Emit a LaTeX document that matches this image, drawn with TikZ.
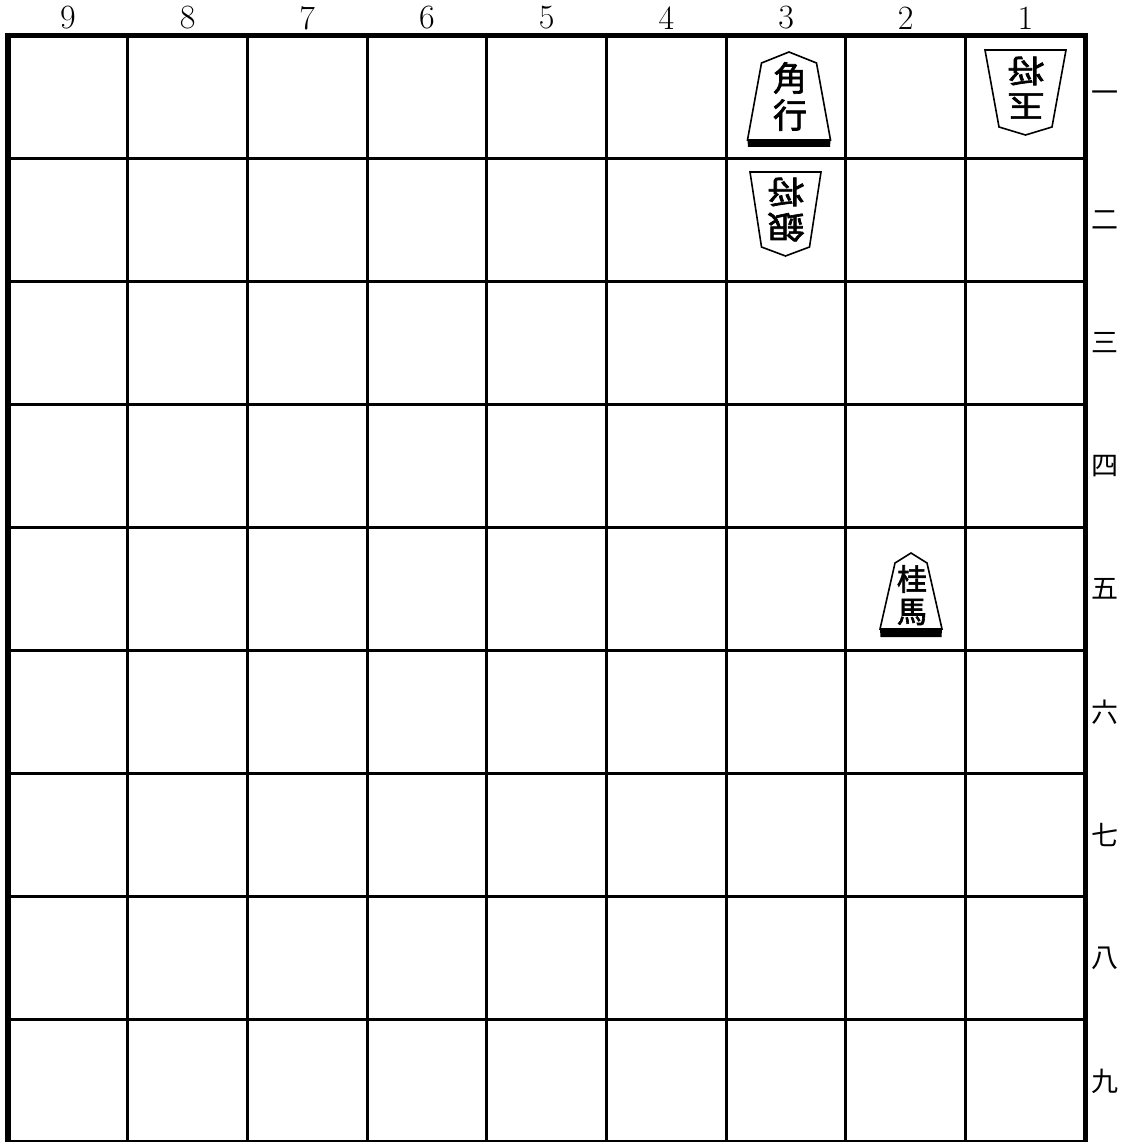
\documentclass[tikz,border=0pt]{standalone}
\usepackage{fontspec}
\newfontfamily\cjk{Noto Sans CJK JP}
\newfontfamily\cjkb[FakeBold=2]{Noto Sans CJK JP}
\newcommand\sentepiece[7]{%
  \draw[pieceline] (#1,#2) -- ({#1+#3},#4) -- ({#1+#5},#6) -- ({#1-#5},#6) -- ({#1-#3},#4) -- cycle;
  \fill ({#1-#5},#6) -- ({#1+#5},#6) -- ({#1+#5-0.5},#7) -- ({#1-#5+0.5},#7) -- cycle;}
\newcommand\gotepiece[6]{%
  \draw[pieceline] ({#1-#3},#2) -- ({#1+#3},#2) -- ({#1+#4},#5) -- (#1,#6) -- ({#1-#4},#5) -- cycle;}
\begin{document}
\begin{tikzpicture}[x=1pt,y=-1pt,
  thinline/.style={line width=3pt},
  frame/.style={line width=5.5pt},
  pieceline/.style={line width=1.6pt, fill=white, line join=miter},
  collabel/.style={font=\fontsize{34}{34}\selectfont, inner sep=0pt},
  rowlabel/.style={font=\cjk\fontsize{27}{27}\selectfont, inner sep=0pt},
  bigchar/.style={font=\cjkb\fontsize{34}{34}\selectfont, inner sep=0pt},
  midchar/.style={font=\cjkb\fontsize{30}{30}\selectfont, inner sep=0pt},
  gotechar/.style={font=\cjkb\fontsize{31}{31}\selectfont, inner sep=0pt, xscale=1.2, rotate=180}]
\useasboundingbox (0,0) rectangle (1122,1142);
\begin{scope}
\clip (0,0) rectangle (1122,1142);
% grid lines
\foreach \k in {1,...,8} {
  \draw[thinline] ({8+\k*119.7},35.5) -- ({8+\k*119.7},1142.5);
  \draw[thinline] (8,{35.5+\k*123}) -- (1085.3,{35.5+\k*123});
}
\draw[frame] (8,35.5) rectangle (1085.3,1142.5);
\end{scope}
% column labels
\foreach \k/\n in {0/9,1/8,2/7,3/6,4/5,5/4,6/3,7/2,8/1}
  \node[collabel] (c\n) at ({8+(\k+0.5)*119.7},18) {\n};
% row labels
\foreach \r/\t in {0/一,1/二,2/三,3/四,4/五,5/六,6/七,7/八,8/九}
  \node[rowlabel] (r\r) at (1105,{35.5+(\r+0.5)*123}) {\t};
% pieces
\sentepiece{789}{52}{27.5}{63}{41.5}{140}{147}
\node[bigchar] (kaku1) at (790,78) {角};
\node[bigchar] (kaku2) at (790,115) {行};
\sentepiece{911}{553}{16}{563}{31}{629}{637}
\node[midchar] (kei1) at (912,579) {桂};
\node[midchar] (kei2) at (912,612) {馬};
\gotepiece{785.5}{172}{35.5}{24}{247}{256}
\node[gotechar] (gin1) at (786,227) {銀};
\node[gotechar] (gin2) at (786,192) {将};
\gotepiece{1025.5}{50}{40.5}{26.5}{127}{135}
\node[gotechar] (gyoku1) at (1026,106) {玉};
\node[gotechar] (gyoku2) at (1026,71) {将};
\end{tikzpicture}
\end{document}
